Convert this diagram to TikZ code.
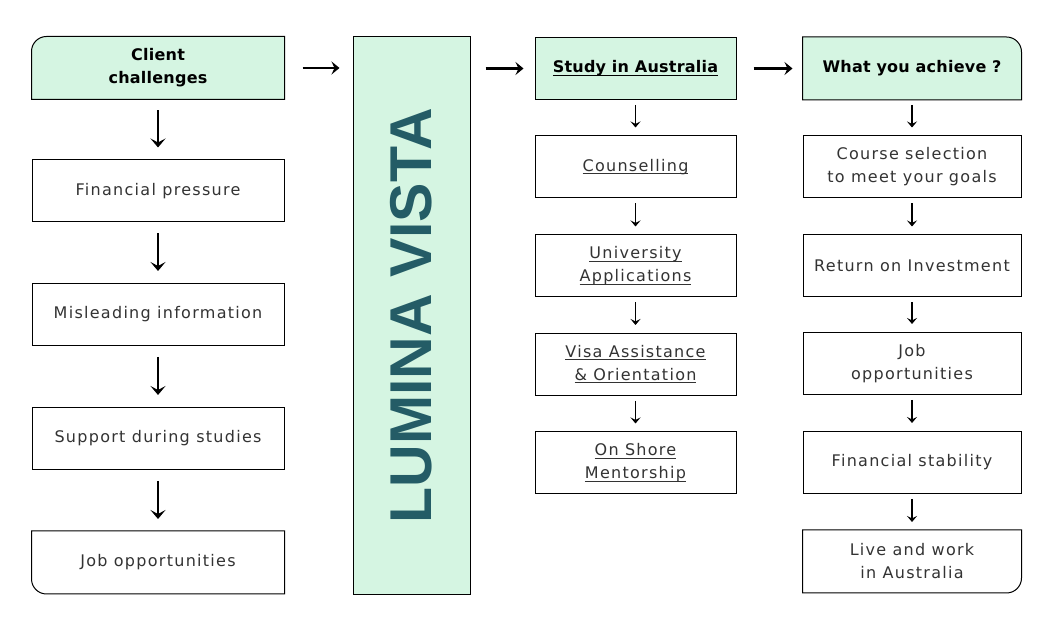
\documentclass[tikz,border=0pt]{standalone}
\usepackage{fontspec}
\setmainfont{DejaVu Sans}[LetterSpace=8,BoldFeatures={LetterSpace=1.5}]
\newfontfamily\brandfont{Liberation Sans}
\usepackage{xcolor}
\usetikzlibrary{arrows.meta,backgrounds}
\definecolor{mint}{HTML}{D5F5E2}
\definecolor{brandteal}{HTML}{245C66}
\definecolor{ink}{HTML}{333333}
\newcommand{\uln}[1]{\setbox0=\hbox{#1}\rlap{\vrule width \wd0 height -1.8pt depth 2.8pt}\box0}

\begin{document}
\begin{tikzpicture}[x=1pt,y=1pt]
  \tikzstyle{box}=[draw,line width=1pt,inner sep=0pt,align=center,minimum height=62pt,text=ink,font=\fontsize{16}{23}\selectfont]
  \tikzstyle{chal}=[box,minimum width=252pt]
  \tikzstyle{serv}=[box,minimum width=201pt]
  \tikzstyle{goal}=[box,minimum width=218pt]
  \tikzstyle{head}=[fill=mint,text=black,font=\bfseries\fontsize{16}{23}\selectfont]
  \tikzstyle{bare}=[draw=none,fill=none]
  \tikzstyle{bigstep}=[-{Stealth[length=9pt,width=15pt,inset=4pt]},line width=2.4pt,shorten <=11pt,shorten >=12pt]
  \tikzstyle{smallstep}=[-{Stealth[length=6pt,width=10pt,inset=2.5pt]},line width=1.5pt,shorten <=5pt,shorten >=8pt]
  \tikzstyle{cross}=[-{Stealth[length=8pt,width=13pt,inset=3pt]},line width=2.6pt]

  \useasboundingbox (0,0) rectangle (1060,631);

  % client challenges
  \node[chal,head,bare] (cc) at (158,563) {Client\\challenges};
  \node[chal] (fp) at (158,440) {Financial pressure};
  \node[chal] (mi) at (158,316.5) {Misleading information};
  \node[chal] (sd) at (158,192.5) {Support during studies};
  \node[chal,bare] (jo) at (158,68.5) {Job opportunities};

  % brand
  \node[draw,line width=1pt,fill=mint,minimum width=117pt,minimum height=558pt] (lv) at (411.5,315) {};
  \node[rotate=90,inner sep=0pt,text=brandteal,font=\brandfont\bfseries\fontsize{59}{59}\selectfont] (lvname) at (lv.center) {LUMINA VISTA};

  % study in australia
  \node[serv,head] (sa) at (635.5,562.5) {\uln{Study in Australia}};
  \node[serv] (co) at (635.5,464) {\uln{Counselling}};
  \node[serv] (ua) at (635.5,365) {\uln{University}\\\uln{Applications}};
  \node[serv] (va) at (635.5,266.5) {\uln{Visa Assistance}\\\uln{\& Orientation}};
  \node[serv] (om) at (635.5,168) {\uln{On Shore}\\\uln{Mentorship}};

  % what you achieve
  \node[goal,head,bare] (wa) at (912,562.5) {What you achieve ?};
  \node[goal] (cs) at (912,464) {Course selection\\to meet your goals};
  \node[goal] (ri) at (912,365) {Return on Investment};
  \node[goal] (jb) at (912,267.5) {Job\\opportunities};
  \node[goal] (fs) at (912,168.5) {Financial stability};
  \node[goal,bare] (lw) at (912,69.5) {Live and work\\in Australia};

  % boxes with one round corner
  \begin{scope}[on background layer]
    \fill[white] (0,0) rectangle (1060,631);
    \draw[line width=1pt,fill=mint] (cc.south west) -- ([yshift=-15pt]cc.north west) arc[start angle=180,end angle=90,radius=15pt] -- (cc.north east) -- (cc.south east) -- cycle;
    \draw[line width=1pt] (jo.north west) -- ([yshift=15pt]jo.south west) arc[start angle=180,end angle=270,radius=15pt] -- (jo.south east) -- (jo.north east) -- cycle;
    \draw[line width=1pt,fill=mint] (wa.south east) -- ([yshift=-15pt]wa.north east) arc[start angle=0,end angle=90,radius=15pt] -- (wa.north west) -- (wa.south west) -- cycle;
    \draw[line width=1pt] (lw.north east) -- ([yshift=15pt]lw.south east) arc[start angle=0,end angle=-90,radius=15pt] -- (lw.south west) -- (lw.north west) -- cycle;
  \end{scope}

  % arrows
  \draw[bigstep] (cc) -- (fp);
  \draw[bigstep] (fp) -- (mi);
  \draw[bigstep] (mi) -- (sd);
  \draw[bigstep] (sd) -- (jo);

  \draw[smallstep] (sa) -- (co);
  \draw[smallstep] (co) -- (ua);
  \draw[smallstep] (ua) -- (va);
  \draw[smallstep] (va) -- (om);

  \draw[smallstep] (wa) -- (cs);
  \draw[smallstep] (cs) -- (ri);
  \draw[smallstep] (ri) -- (jb);
  \draw[smallstep] (jb) -- (fs);
  \draw[smallstep] (fs) -- (lw);

  \draw[cross,shorten <=18pt,shorten >=13pt] (cc.east) -- (lv.west |- cc.east);
  \draw[cross,shorten <=15pt,shorten >=11pt] (lv.east |- sa.west) -- (sa.west);
  \draw[cross,shorten <=17pt,shorten >=10pt] (sa.east) -- (wa.west);

\end{tikzpicture}
\end{document}
